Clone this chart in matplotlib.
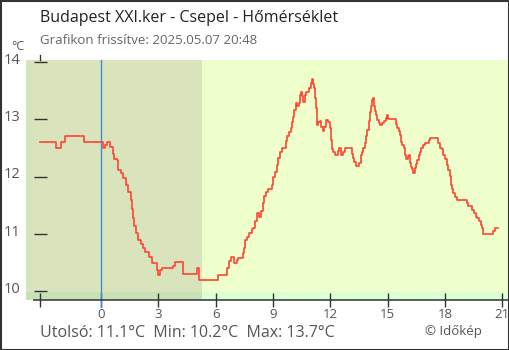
import matplotlib
matplotlib.use("Agg")
import matplotlib.pyplot as plt
from matplotlib.patches import Rectangle

plt.rcParams['font.family'] = ['Open Sans', 'DejaVu Sans']

# --- data -------------------------------------------------------------
title = "Budapest XXI.ker - Csepel - Hőmérséklet"
subtitle = "Grafikon frissítve: 2025.05.07 20:48"
summary = "Utolsó: 11.1°C  Min: 10.2°C  Max: 13.7°C"
credit = "© Időkép"

# hours relative to midnight (negative = previous evening)
hours = [
    -3.19, -2.46, -2.35, -2.20, -2.09, -1.88, -0.99, -0.89, 0.00, 0.10,
    0.21, 0.30, 0.47, 0.61, 0.70, 0.82, 0.91, 1.05, 1.17, 1.31,
    1.43, 1.57, 1.64, 1.69, 1.74, 1.83, 1.95, 2.08, 2.21, 2.30,
    2.46, 2.53, 2.65, 2.83, 2.91, 2.97, 3.09, 3.18, 3.70, 3.78,
    3.87, 4.17, 4.28, 4.96, 5.04, 5.14, 6.05, 6.14, 6.45, 6.58,
    6.71, 6.82, 6.98, 7.10, 7.18, 7.33, 7.42, 7.48, 7.54, 7.62,
    7.76, 7.89, 7.97, 8.06, 8.18, 8.28, 8.37, 8.46, 8.53, 8.63,
    8.72, 8.88, 8.93, 9.02, 9.11, 9.19, 9.28, 9.37, 9.46, 9.63,
    9.68, 9.75, 9.85, 9.93, 10.01, 10.06, 10.12, 10.20, 10.27, 10.35,
    10.41, 10.47, 10.52, 10.59, 10.68, 10.73, 10.85, 10.90, 10.97, 11.04,
    11.11, 11.15, 11.20, 11.25, 11.32, 11.37, 11.46, 11.51, 11.60, 11.69,
    11.77, 11.86, 11.89, 11.98, 12.04, 12.09, 12.16, 12.23, 12.33, 12.42,
    12.47, 12.56, 12.65, 12.75, 13.07, 13.12, 13.17, 13.24, 13.33, 13.46,
    13.52, 13.59, 13.67, 13.73, 13.80, 13.87, 13.94, 14.01, 14.08, 14.13,
    14.18, 14.22, 14.27, 14.34, 14.39, 14.46, 14.53, 14.60, 14.72, 14.83,
    14.91, 14.98, 15.03, 15.33, 15.42, 15.51, 15.58, 15.65, 15.70, 15.77,
    15.86, 15.92, 15.98, 16.05, 16.10, 16.15, 16.22, 16.29, 16.34, 16.42,
    16.48, 16.55, 16.63, 16.69, 16.76, 16.87, 16.94, 17.08, 17.15, 17.22,
    17.57, 17.65, 17.74, 17.84, 17.91, 18.00, 18.09, 18.17, 18.26, 18.30,
    18.35, 18.44, 18.52, 18.61, 19.05, 19.14, 19.22, 19.35, 19.43, 19.52,
    19.61, 19.69, 19.78, 19.87, 19.94, 20.01, 20.48, 20.53, 20.62, 20.80,
]
temps = [
    12.60, 12.60, 12.50, 12.50, 12.60, 12.70, 12.70, 12.60, 12.60, 12.50,
    12.55, 12.60, 12.52, 12.40, 12.30, 12.29, 12.11, 12.06, 11.97, 11.85,
    11.73, 11.59, 11.44, 11.27, 11.14, 11.01, 10.89, 10.82, 10.75, 10.69,
    10.69, 10.60, 10.49, 10.49, 10.37, 10.28, 10.37, 10.40, 10.40, 10.44,
    10.50, 10.50, 10.30, 10.30, 10.40, 10.20, 10.20, 10.28, 10.28, 10.40,
    10.53, 10.59, 10.49, 10.54, 10.58, 10.58, 10.66, 10.75, 10.89, 10.95,
    11.01, 11.08, 11.10, 11.22, 11.37, 11.30, 11.39, 11.53, 11.66, 11.73,
    11.79, 11.79, 11.85, 11.99, 12.08, 12.20, 12.33, 12.43, 12.49, 12.49,
    12.62, 12.71, 12.77, 12.85, 12.96, 13.04, 13.16, 13.28, 13.23, 13.28,
    13.42, 13.48, 13.41, 13.31, 13.42, 13.48, 13.48, 13.54, 13.63, 13.70,
    13.62, 13.54, 13.37, 13.19, 12.90, 12.96, 12.97, 12.87, 12.79, 12.87,
    12.99, 12.99, 12.96, 12.84, 12.64, 12.48, 12.42, 12.38, 12.38, 12.45,
    12.49, 12.38, 12.43, 12.49, 12.49, 12.40, 12.32, 12.26, 12.18, 12.18,
    12.23, 12.38, 12.43, 12.49, 12.58, 12.71, 12.81, 12.97, 13.13, 13.23,
    13.34, 13.38, 13.24, 13.15, 13.07, 12.99, 12.93, 12.90, 12.94, 12.97,
    13.03, 13.07, 13.00, 13.00, 12.92, 12.85, 12.80, 12.72, 12.61, 12.55,
    12.49, 12.38, 12.31, 12.35, 12.38, 12.24, 12.17, 12.13, 12.07, 12.14,
    12.21, 12.29, 12.38, 12.43, 12.49, 12.55, 12.59, 12.59, 12.64, 12.68,
    12.68, 12.59, 12.49, 12.48, 12.38, 12.30, 12.20, 12.11, 12.01, 11.85,
    11.78, 11.71, 11.65, 11.59, 11.59, 11.54, 11.49, 11.49, 11.41, 11.36,
    11.30, 11.27, 11.22, 11.15, 11.10, 11.00, 11.00, 11.05, 11.10, 11.10,
]

x_ticks = [0, 3, 6, 9, 12, 15, 18, 21]
y_ticks = [10, 11, 12, 13, 14]
night_end = 5.285          # sunrise, end of the darker band
band_top = 9.98            # lower strip under the 10 °C line

# --- figure -----------------------------------------------------------
W, H = 510, 350
fig = plt.figure(figsize=(W / 100, H / 100), dpi=100)
fig.patch.set_facecolor('white')

ax = fig.add_axes([26 / W, 1 - 300 / H, (508 - 26) / W, (300 - 60) / H])
xmin, xmax = -3.925, 21.30
ymin, ymax = 9.843, 14.035
ax.set_xlim(xmin, xmax)
ax.set_ylim(ymin, ymax)
ax.set_facecolor('#eeffcc')

# background shading
ax.add_patch(Rectangle((xmin, band_top), night_end - xmin, ymax - band_top,
                       facecolor='#d9e4bc', edgecolor='none', zorder=0))
ax.add_patch(Rectangle((xmin, ymin), night_end - xmin, band_top - ymin,
                       facecolor='#c6e2b6', edgecolor='none', zorder=0))
ax.add_patch(Rectangle((night_end, ymin), xmax - night_end, band_top - ymin,
                       facecolor='#dcffd4', edgecolor='none', zorder=0))

for s in ax.spines.values():
    s.set_visible(False)

# axis line along the bottom
ax.plot([hours[0] - 0.36, xmax], [ymin, ymin], color='#333333', lw=1.1,
        clip_on=False, zorder=4, solid_capstyle='butt')

# midnight marker
ax.plot([0, 0], [ymin - 0.12, ymax], color='#3b8ed0', lw=1.0,
        clip_on=False, zorder=3)

# x ticks crossing the axis line
ax.set_xticks([hours[0]] + x_ticks)
ax.set_xticklabels([''] + [str(t) for t in x_ticks])
ax.tick_params(axis='x', direction='inout', length=9.5, width=1.0,
               color='#333333', labelcolor='#555555', labelsize=9.5, pad=1)

# y ticks drawn as short dashes at the start of the series
ax.set_yticks([])
for t in y_ticks:
    ax.plot([hours[0] - 0.33, hours[0] + 0.35], [t, t], color='#333333',
            lw=1.0, zorder=4, solid_capstyle='butt')
    ax.text(-0.012, t + 0.03, str(t), transform=ax.get_yaxis_transform(),
            ha='right', va='center', fontsize=10.5, color='#555555')
ax.plot([hours[0], hours[0]], [ymax, ymax + 0.09], color='#333333', lw=1.0,
        clip_on=False, zorder=4)

# temperature line
ax.plot(hours, temps, color='#ff4433', lw=1.2, drawstyle='steps-post',
        zorder=5, clip_on=False)

# texts
fig.text(40 / W, 1 - 18 / H, title, fontsize=11.5, color='#222222',
         ha='left', va='center')
fig.text(40 / W, 1 - 41 / H, subtitle, fontsize=9.5, color='#666666',
         ha='left', va='center')
fig.text(18 / W, 1 - 47 / H, '°C', fontsize=9, color='#555555',
         ha='center', va='center')
fig.text(40 / W, 1 - 333 / H, summary, fontsize=11.5, color='#555555',
         ha='left', va='center')
fig.text(453 / W, 1 - 331 / H, credit, fontsize=9.5, color='#555555',
         ha='center', va='center')

# outer frame
fig.add_artist(Rectangle((0.5 / W, 0.5 / H), (W - 1.5) / W, (H - 1.5) / H,
                         transform=fig.transFigure, fill=False,
                         edgecolor='#333333', lw=1.5))

fig.savefig('out.png', dpi=100)
